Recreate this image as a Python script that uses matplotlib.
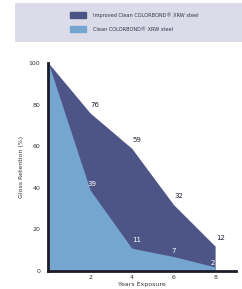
import matplotlib.pyplot as plt
from matplotlib.patches import Rectangle

years = [0, 2, 4, 6, 8]
improved = [100, 76, 59, 32, 12]
standard = [100, 39, 11, 7, 2]
series_names = ["Improved Clean COLORBOND\u00ae XRW steel", "Clean COLORBOND\u00ae XRW steel"]
yticks = [0, 20, 40, 60, 80, 100]
xticks = [2, 4, 6, 8]

dark = "#4d5486"
light = "#74a6d0"

fig = plt.figure(figsize=(2.42, 2.89), dpi=100)
fig.patch.set_facecolor("white")

# legend band at the top
band = fig.add_axes([0.06, 0.855, 0.94, 0.135])
band.set_xlim(0, 1)
band.set_ylim(0, 1)
band.axis("off")
band.add_patch(Rectangle((0, 0), 1, 1, color="#dcdbea", zorder=1))
band.add_patch(Rectangle((0, -0.06), 1, 0.1, color="#9a99a6", zorder=0))
band.add_patch(Rectangle((0.245, 0.62), 0.07, 0.14, color=dark, zorder=2))
band.add_patch(Rectangle((0.245, 0.26), 0.07, 0.14, color=light, zorder=2))
band.text(0.345, 0.69, series_names[0], fontsize=3.6, va="center", color="#333344")
band.text(0.345, 0.33, series_names[1], fontsize=3.6, va="center", color="#333344")

ax = fig.add_axes([0.2, 0.062, 0.775, 0.72])
ax.fill_between(years, 0, improved, color=dark, lw=0)
ax.fill_between(years, 0, standard, color=light, lw=0)
ax.set_xlim(0, 9.0)
ax.set_ylim(0, 100)

for x, y in zip(years[1:], improved[1:]):
    ax.text(x + 0.25, y + 4, str(y), fontsize=5, color="#222233", ha="center", va="center")
offs = [(0.1, 3), (0.25, 4), (0.0, 2.5), (-0.1, 2)]
for (x, y), (dx, dy) in zip(zip(years[1:], standard[1:]), offs):
    ax.text(x + dx, y + dy, str(y), fontsize=5, color="white", ha="center", va="center")

ax.set_xticks(xticks)
ax.set_yticks(yticks)
ax.tick_params(labelsize=4.5, length=0, pad=3, colors="#333333")
ax.tick_params(axis="y", pad=6)
ax.set_xlabel("Years Exposure", fontsize=4.5, labelpad=1, color="#333333")
ax.set_ylabel("Gloss Retention (%)", fontsize=4.5, labelpad=3, color="#333333")
for s in ["top", "right"]:
    ax.spines[s].set_visible(False)
ax.spines["left"].set_linewidth(2)
ax.spines["bottom"].set_linewidth(2)
ax.spines["left"].set_color("#1c1c2a")
ax.spines["bottom"].set_color("#1c1c2a")

fig.savefig("out.png", dpi=100)
